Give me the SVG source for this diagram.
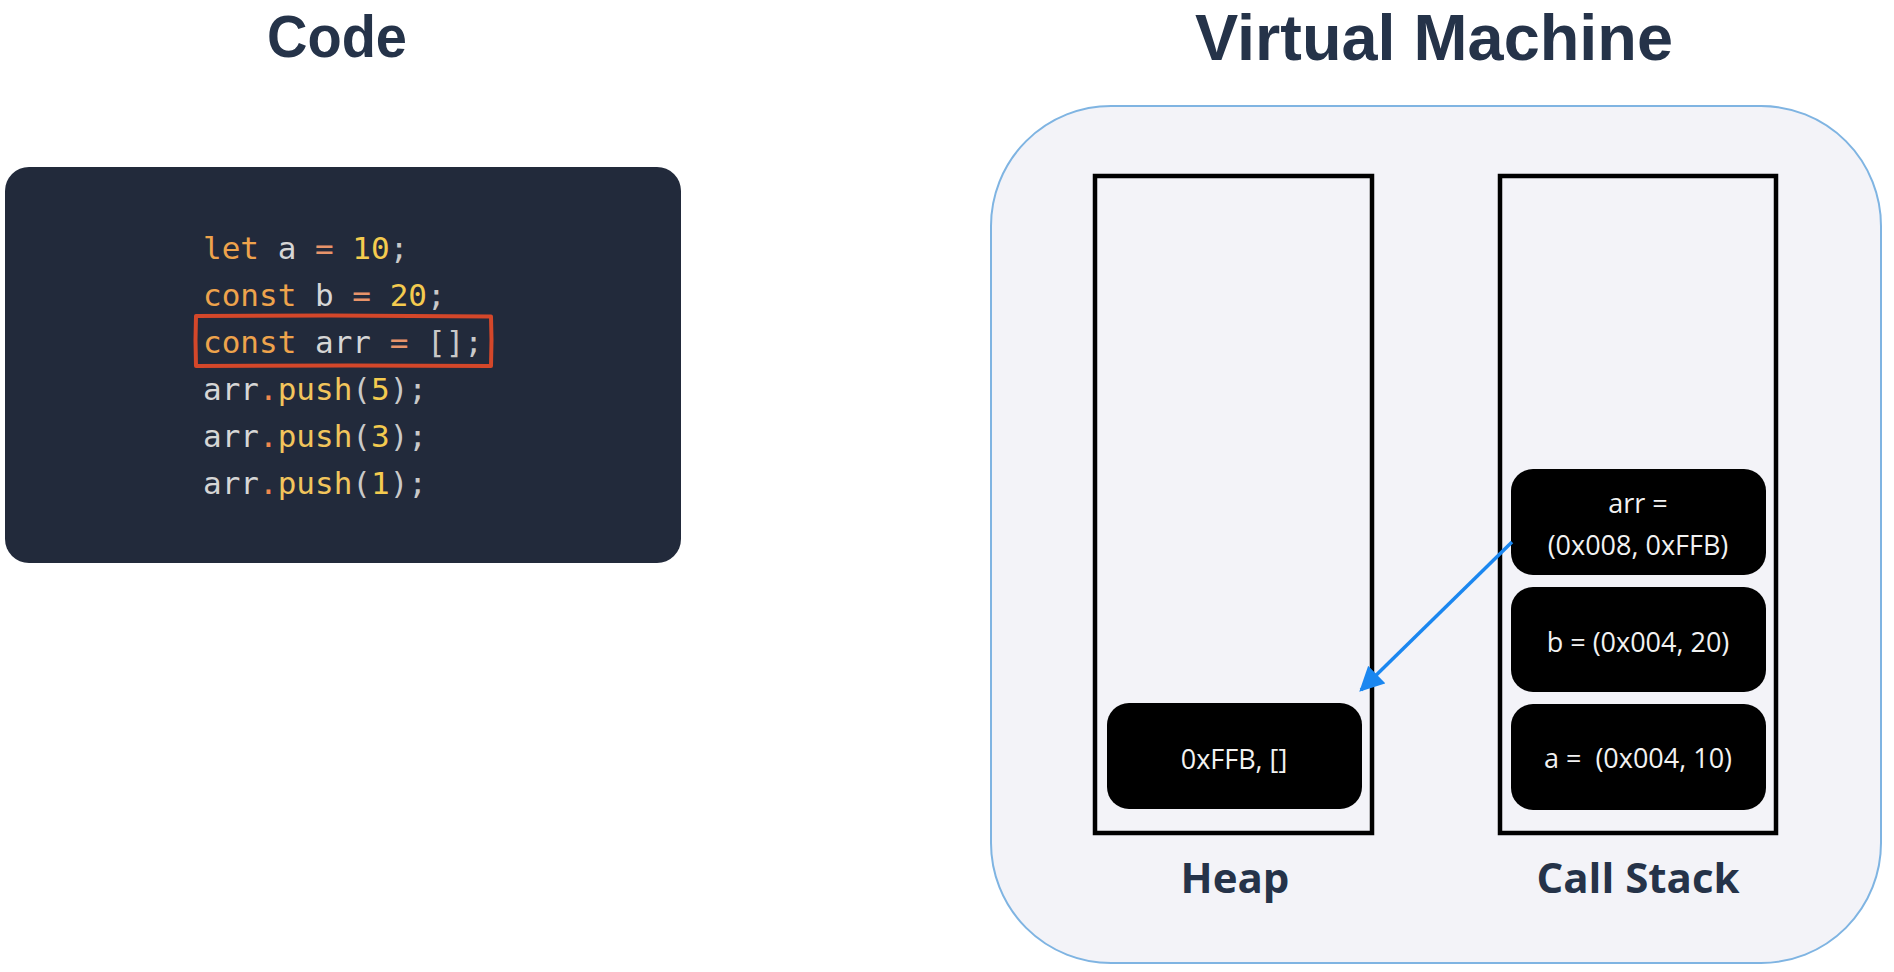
<svg xmlns="http://www.w3.org/2000/svg" width="1894" height="972" viewBox="0 0 1894 972">
  <defs>
    <style>
      .title { font-family: "Liberation Sans", "Open Sans", sans-serif; font-weight: 700; fill: #253349; text-anchor: middle; }
      .label { font-family: "Open Sans", "Noto Sans", sans-serif; font-weight: 700; font-size: 42px; fill: #253349; text-anchor: middle; }
      .code { font-family: "DejaVu Sans Mono", "Liberation Mono", monospace; font-size: 31px; fill: #d6d6d6; }
      .kw { fill: #eea34c; }
      .op { fill: #e8946a; }
      .num { fill: #f4cb4f; }
      .fn { fill: #f2c55c; }
      .dot { fill: #f0884e; }
      .pn { fill: #c9c9c9; }
      .cell { fill: #000000; }
      .celltext { font-family: "Open Sans", "Noto Sans", sans-serif; font-size: 27px; fill: #f2f2f2; text-anchor: middle; }
      .column { fill: none; stroke: #000000; stroke-width: 4.5; }
      .conn { stroke: #1b87f0; stroke-width: 3.5; fill: none; }
    </style>
    <marker id="arrowhead" viewBox="0 0 10 10" refX="9" refY="5" markerWidth="7" markerHeight="7" markerUnits="strokeWidth" orient="auto">
      <path d="M0,0 L10,5 L0,10 z" fill="#1b87f0"/>
    </marker>
  </defs>

  <rect x="0" y="0" width="1894" height="972" fill="#ffffff"/>

  <g id="title-code">
    <text class="title" x="337" y="57" font-size="60" textLength="140" lengthAdjust="spacingAndGlyphs">Code</text>
  </g>

  <g id="code-panel">
    <rect x="5" y="167" width="676" height="396" rx="24" ry="24" fill="#222a3b"/>
    <text class="code" xml:space="preserve" x="203" y="259"><tspan class="kw">let</tspan> a <tspan class="op">=</tspan> <tspan class="num">10</tspan><tspan class="pn">;</tspan></text>
    <text class="code" xml:space="preserve" x="203" y="306"><tspan class="kw">const</tspan> b <tspan class="op">=</tspan> <tspan class="num">20</tspan><tspan class="pn">;</tspan></text>
    <text class="code" xml:space="preserve" x="203" y="353"><tspan class="kw">const</tspan> arr <tspan class="op">=</tspan> <tspan class="pn">[];</tspan></text>
    <text class="code" xml:space="preserve" x="203" y="400">arr<tspan class="dot">.</tspan><tspan class="fn">push</tspan><tspan class="pn">(</tspan><tspan class="num">5</tspan><tspan class="pn">);</tspan></text>
    <text class="code" xml:space="preserve" x="203" y="447">arr<tspan class="dot">.</tspan><tspan class="fn">push</tspan><tspan class="pn">(</tspan><tspan class="num">3</tspan><tspan class="pn">);</tspan></text>
    <text class="code" xml:space="preserve" x="203" y="494">arr<tspan class="dot">.</tspan><tspan class="fn">push</tspan><tspan class="pn">(</tspan><tspan class="num">1</tspan><tspan class="pn">);</tspan></text>
    <path d="M196,316 L330,315.5 L491,316.5 L491.5,340 L491,366 L350,365.5 L196,366 L195.5,340 Z" fill="none" stroke="#d4472a" stroke-width="4" stroke-linejoin="round"/>
  </g>

  <g id="title-vm">
    <text class="title" x="1434" y="60" font-size="64" textLength="478" lengthAdjust="spacingAndGlyphs">Virtual Machine</text>
  </g>

  <g id="virtual-machine">
    <rect x="991" y="106" width="890" height="857" rx="120" ry="120" fill="#f3f3f8" stroke="#7fb4e2" stroke-width="2"/>
  </g>

  <g id="heap">
    <rect class="column" x="1095" y="176" width="277" height="657"/>
    <text class="label" x="1235" y="893">Heap</text>
  </g>

  <g id="call-stack">
    <rect class="column" x="1500" y="176" width="276" height="657"/>
    <text class="label" x="1638" y="893">Call Stack</text>
  </g>

  <g id="heap-arr">
    <rect class="cell" x="1107" y="703" width="255" height="106" rx="22" ry="22"/>
    <text class="celltext" x="1234" y="769">0xFFB, []</text>
  </g>

  <g id="stack-arr">
    <rect class="cell" x="1511" y="469" width="255" height="106" rx="22" ry="22"/>
    <text class="celltext" x="1638" y="513">arr =</text>
    <text class="celltext" x="1638" y="555">(0x008, 0xFFB)</text>
  </g>

  <g id="stack-b">
    <rect class="cell" x="1511" y="587" width="255" height="105" rx="22" ry="22"/>
    <text class="celltext" x="1638" y="652">b = (0x004, 20)</text>
  </g>

  <g id="stack-a">
    <rect class="cell" x="1511" y="704" width="255" height="106" rx="22" ry="22"/>
    <text class="celltext" x="1638" y="768" xml:space="preserve">a =  (0x004, 10)</text>
  </g>

  <g id="connectors">
    <line class="conn" x1="1512" y1="542" x2="1361" y2="690" marker-end="url(#arrowhead)"/>
  </g>
</svg>
